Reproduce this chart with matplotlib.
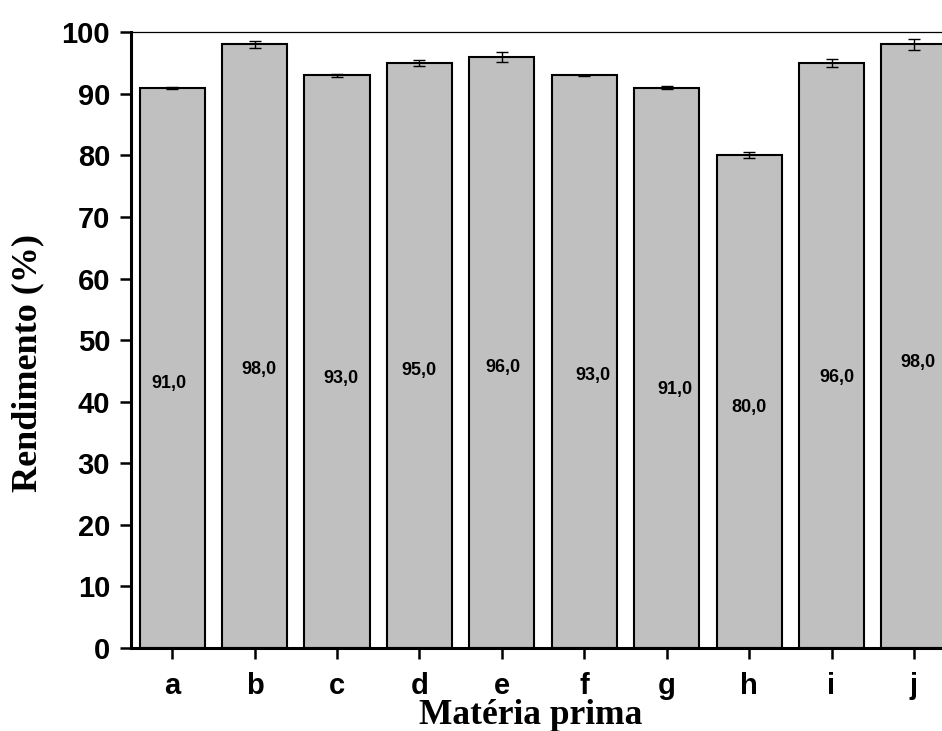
import matplotlib.pyplot as plt
import numpy as np

# yield per raw material
categories = ['a', 'b', 'c', 'd', 'e', 'f', 'g', 'h', 'i', 'j']
values = [91.0, 98.0, 93.0, 95.0, 96.0, 93.0, 91.0, 80.0, 95.0, 98.0]
errors = [0.15, 0.5, 0.25, 0.5, 0.8, 0.1, 0.2, 0.5, 0.7, 0.9]
bar_labels = ['91,0', '98,0', '93,0', '95,0', '96,0', '93,0', '91,0', '80,0', '96,0', '98,0']
# where the value labels sit inside the bars
label_y = [43.0, 45.3, 43.8, 45.0, 45.6, 44.2, 42.0, 39.1, 44.0, 46.4]
label_dx = [-0.04, 0.05, 0.05, 0.0, 0.01, 0.1, 0.1, 0.0, 0.07, 0.05]

plt.rcParams['font.family'] = ['Liberation Sans', 'DejaVu Sans']

fig = plt.figure(figsize=(9.42, 7.31), dpi=100)
ax = fig.add_axes([0.139, 0.1135, 0.875, 0.8425])

x = np.arange(len(categories))
ax.bar(x, values, width=0.79, color='#c0c0c0', edgecolor='black', linewidth=1.5, zorder=2)
ax.errorbar(x, values, yerr=errors, fmt='none', ecolor='black', elinewidth=1,
            capsize=4.5, capthick=1, zorder=3)

for k in range(len(categories)):
    ax.text(x[k] + label_dx[k], label_y[k], bar_labels[k], ha='center', va='center',
            fontsize=13, fontweight='bold', zorder=4)

ax.set_xlim(-0.5, 9.5)
ax.set_ylim(0, 100)
ax.set_yticks(np.arange(0, 101, 10))
ax.set_xticks(x)
ax.set_xticklabels(categories)

for lab in ax.get_xticklabels() + ax.get_yticklabels():
    lab.set_fontweight('bold')
    lab.set_fontsize(21)

ax.tick_params(axis='both', direction='out', length=8, width=1.8)
ax.tick_params(axis='x', pad=9)
ax.tick_params(axis='y', pad=7)

ax.spines['left'].set_linewidth(2.2)
ax.spines['bottom'].set_linewidth(2.2)
ax.spines['top'].set_linewidth(0.9)
ax.spines['right'].set_visible(False)

ax.set_ylabel('Rendimento (%)', family='Liberation Serif', fontweight='bold', fontsize=26)
ax.yaxis.label.set_va('center')
ax.yaxis.set_label_coords(-0.125, 0.463)
ax.set_xlabel('Matéria prima', family='Liberation Serif', fontweight='bold', fontsize=25.5)
ax.xaxis.label.set_va('top')
ax.xaxis.set_label_coords(0.485, -0.083)

plt.savefig('out.png', dpi=100)
